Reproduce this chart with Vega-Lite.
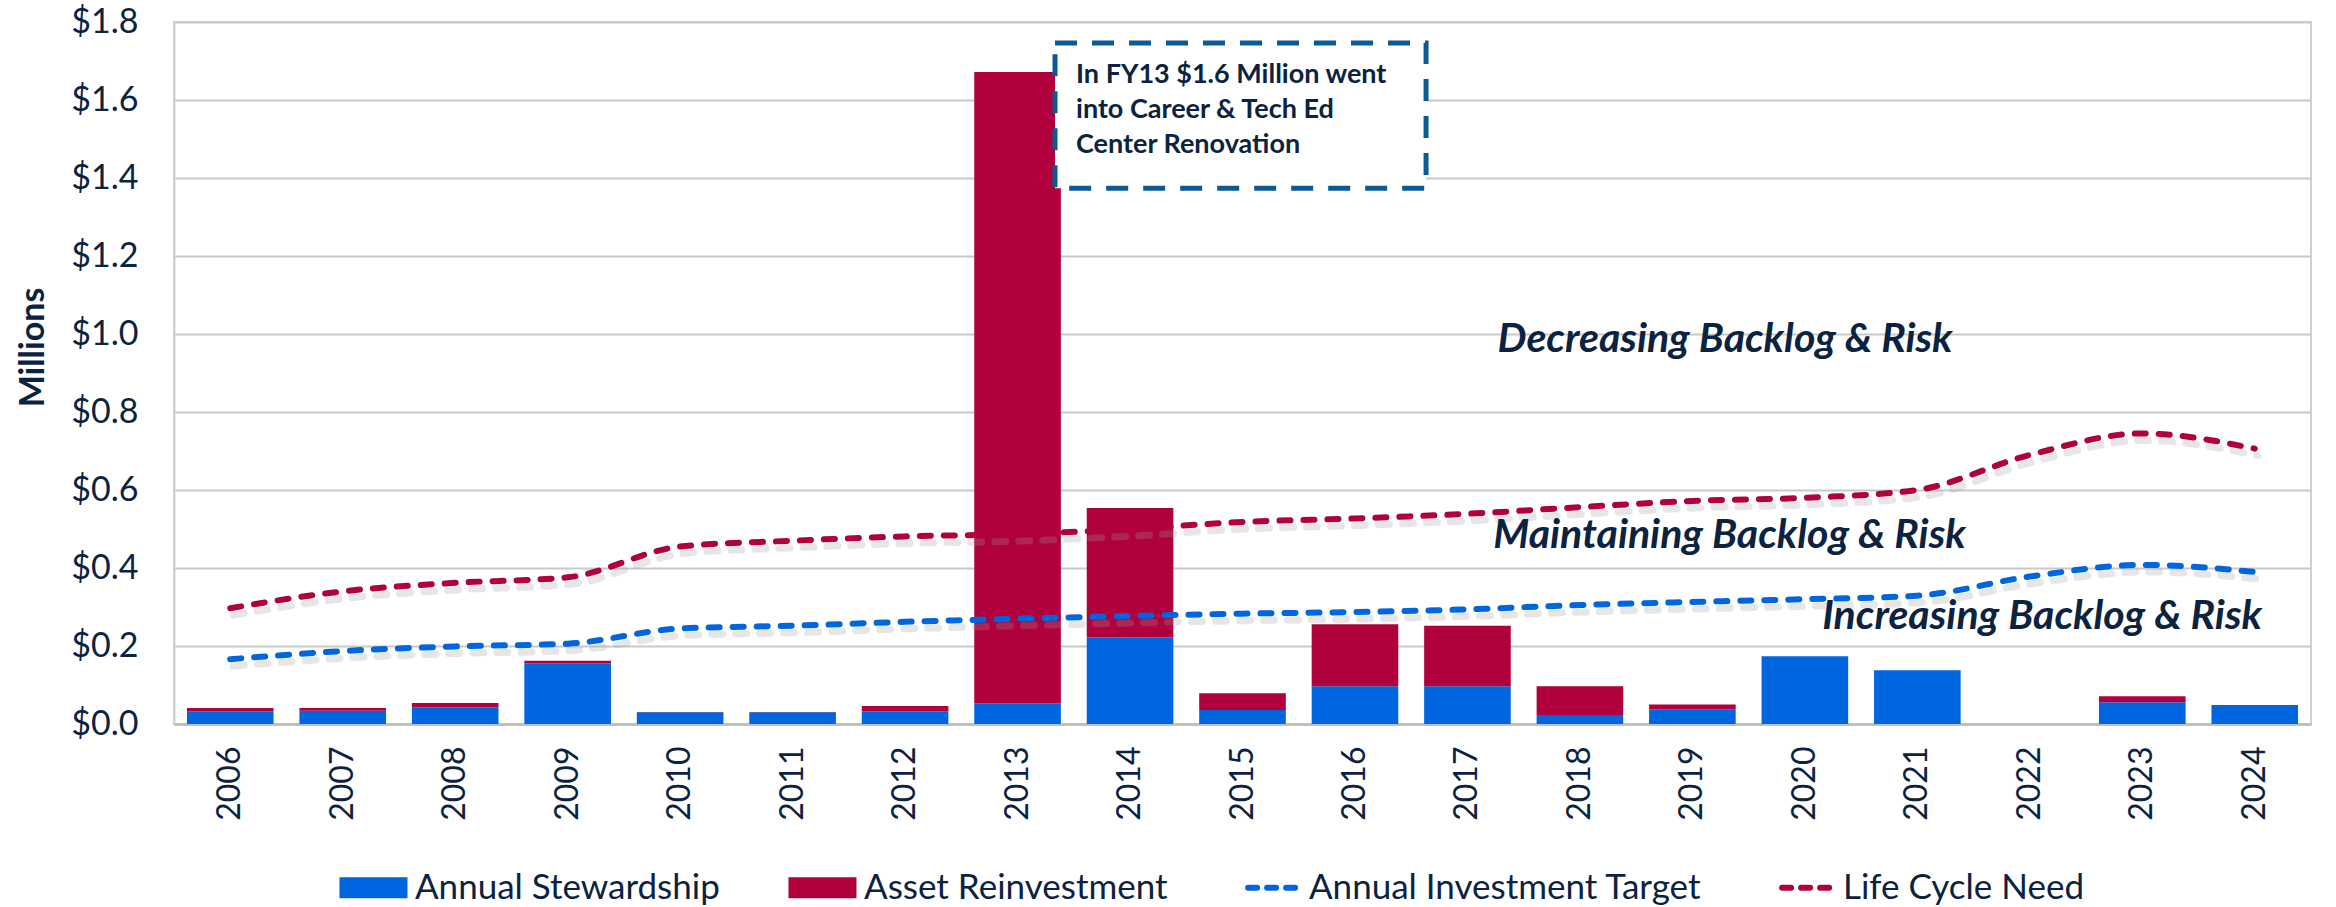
{
  "$schema": "https://vega.github.io/schema/vega-lite/v6.json",
  "autosize": {"type": "none"},
  "width": 2137,
  "height": 702,
  "padding": {"left": 174, "top": 22, "right": 25, "bottom": 183},
  "background": "white",
  "config": {
    "font": "Lato",
    "view": {"stroke": "#d0d0d0", "strokeWidth": 2},
    "axis": {"labelFont": "Lato", "titleFont": "Lato", "labelColor": "#0b2341", "titleColor": "#0b2341"}
  },
  "datasets": {
    "main": [
      {"year": "2006", "Annual Stewardship": 0.033, "Asset Reinvestment": 0.008, "Annual Investment Target": 0.166, "Life Cycle Need": 0.297},
      {"year": "2007", "Annual Stewardship": 0.034, "Asset Reinvestment": 0.007, "Annual Investment Target": 0.187, "Life Cycle Need": 0.34},
      {"year": "2008", "Annual Stewardship": 0.043, "Asset Reinvestment": 0.011, "Annual Investment Target": 0.199, "Life Cycle Need": 0.362},
      {"year": "2009", "Annual Stewardship": 0.156, "Asset Reinvestment": 0.006, "Annual Investment Target": 0.206, "Life Cycle Need": 0.376},
      {"year": "2010", "Annual Stewardship": 0.030, "Asset Reinvestment": 0.001, "Annual Investment Target": 0.245, "Life Cycle Need": 0.455},
      {"year": "2011", "Annual Stewardship": 0.030, "Asset Reinvestment": 0.001, "Annual Investment Target": 0.252, "Life Cycle Need": 0.47},
      {"year": "2012", "Annual Stewardship": 0.033, "Asset Reinvestment": 0.013, "Annual Investment Target": 0.262, "Life Cycle Need": 0.481},
      {"year": "2013", "Annual Stewardship": 0.053, "Asset Reinvestment": 1.619, "Annual Investment Target": 0.27, "Life Cycle Need": 0.487},
      {"year": "2014", "Annual Stewardship": 0.222, "Asset Reinvestment": 0.332, "Annual Investment Target": 0.277, "Life Cycle Need": 0.5},
      {"year": "2015", "Annual Stewardship": 0.036, "Asset Reinvestment": 0.043, "Annual Investment Target": 0.283, "Life Cycle Need": 0.518},
      {"year": "2016", "Annual Stewardship": 0.097, "Asset Reinvestment": 0.159, "Annual Investment Target": 0.287, "Life Cycle Need": 0.527},
      {"year": "2017", "Annual Stewardship": 0.097, "Asset Reinvestment": 0.155, "Annual Investment Target": 0.294, "Life Cycle Need": 0.539},
      {"year": "2018", "Annual Stewardship": 0.023, "Asset Reinvestment": 0.074, "Annual Investment Target": 0.305, "Life Cycle Need": 0.556},
      {"year": "2019", "Annual Stewardship": 0.038, "Asset Reinvestment": 0.012, "Annual Investment Target": 0.313, "Life Cycle Need": 0.572},
      {"year": "2020", "Annual Stewardship": 0.174, "Asset Reinvestment": 0.0, "Annual Investment Target": 0.32, "Life Cycle Need": 0.58},
      {"year": "2021", "Annual Stewardship": 0.138, "Asset Reinvestment": 0.0, "Annual Investment Target": 0.329, "Life Cycle Need": 0.6},
      {"year": "2022", "Annual Stewardship": 0.0, "Asset Reinvestment": 0.0, "Annual Investment Target": 0.378, "Life Cycle Need": 0.69},
      {"year": "2023", "Annual Stewardship": 0.056, "Asset Reinvestment": 0.015, "Annual Investment Target": 0.408, "Life Cycle Need": 0.745},
      {"year": "2024", "Annual Stewardship": 0.049, "Asset Reinvestment": 0.0, "Annual Investment Target": 0.39, "Life Cycle Need": 0.706}
    ],
    "box": [
      {"x0": 7.833, "x1": 11.132, "y0": 1.374, "y1": 1.746}
    ],
    "boxText": [
      {"line": "In FY13 $1.6 Million went", "xpos": 8.02, "ypos": 1.644},
      {"line": "into Career & Tech Ed", "xpos": 8.02, "ypos": 1.554},
      {"line": "Center Renovation", "xpos": 8.02, "ypos": 1.464}
    ],
    "zones": [
      {"label": "Decreasing Backlog & Risk", "xpos": 13.79, "ypos": 0.985},
      {"label": "Maintaining Backlog & Risk", "xpos": 13.83, "ypos": 0.482},
      {"label": "Increasing Backlog & Risk", "xpos": 16.61, "ypos": 0.274}
    ]
  },
  "resolve": {"scale": {"x": "independent"}},
  "layer": [
    {
      "layer": [
        {
          "data": {"name": "main"},
          "transform": [{"fold": ["Annual Stewardship", "Asset Reinvestment"], "as": ["series", "value"]}],
          "mark": {"type": "bar"},
          "encoding": {
            "x": {
              "field": "year", "type": "ordinal",
              "scale": {"paddingInner": 0.23, "paddingOuter": 0.115},
              "axis": {"title": null, "labelAngle": -90, "labelFontSize": 32, "labelPadding": 22, "ticks": false, "tickSize": 0, "domainColor": "#bfbfbf", "domainWidth": 3, "grid": false}
            },
            "y": {
              "field": "value", "type": "quantitative", "stack": "zero",
              "scale": {"domain": [0, 1.8], "nice": false},
              "title": "Millions",
              "axis": {"values": [0, 0.2, 0.4, 0.6, 0.8, 1.0, 1.2, 1.4, 1.6, 1.8], "format": "$.1f", "labelFontSize": 34, "labelPadding": 36, "ticks": false, "tickSize": 0, "domainColor": "#d0d0d0", "domainWidth": 2, "gridColor": "#c9c9c9", "gridWidth": 2, "titleFontSize": 34, "titleFontWeight": "bold", "titlePadding": 20, "titleY": 325}
            },
            "color": {
              "field": "series", "type": "nominal",
              "scale": {
                "domain": ["Annual Stewardship", "Asset Reinvestment", "Annual Investment Target", "Life Cycle Need"],
                "range": ["#0066e0", "#b0003e", "#0066e0", "#b0003e"]
              },
              "legend": {
                "orient": "none", "legendX": 166, "legendY": 848, "direction": "horizontal", "title": null,
                "labelFont": "Lato", "labelFontSize": 35, "labelColor": "#0b2341", "labelOffset": 40, "labelLimit": 0,
                "symbolSize": 4624, "columnPadding": 68, "gridAlign": "each",
                "encode": {
                  "symbols": {
                    "update": {
                      "shape": {"signal": "indexof(['Annual Stewardship','Asset Reinvestment'], datum.value) >= 0 ? 'M-0.53,-0.31H1.47V0.31H-0.53Z' : 'M-0.6,0H0.95'"},
                      "fill": {"signal": "indexof(['Annual Stewardship','Asset Reinvestment'], datum.value) >= 0 ? scale('color', datum.value) : 'transparent'"},
                      "stroke": {"signal": "scale('color', datum.value)"},
                      "strokeWidth": {"signal": "indexof(['Annual Stewardship','Asset Reinvestment'], datum.value) >= 0 ? 0 : 6"},
                      "strokeDash": {"signal": "indexof(['Annual Stewardship','Asset Reinvestment'], datum.value) >= 0 ? [1,0] : [9,10]"},
                      "strokeCap": {"value": "round"},
                      "opacity": {"value": 1}
                    }
                  },
                  "labels": {
                    "update": {
                      "dx": {"signal": "indexof(['Annual Stewardship','Asset Reinvestment'], datum.value) >= 0 ? 0 : -17"}
                    }
                  }
                }
              }
            },
            "order": {"field": "series", "sort": "ascending"}
          }
        },
        {
          "data": {"name": "main"},
          "transform": [{"fold": ["Annual Investment Target", "Life Cycle Need"], "as": ["series", "value"]}],
          "mark": {"type": "line", "interpolate": "monotone", "strokeWidth": 7, "strokeDash": [11, 13], "strokeCap": "round", "color": "#9a9a9a", "opacity": 0.25, "xOffset": 3, "yOffset": 7},
          "encoding": {
            "x": {"field": "year", "type": "ordinal"},
            "y": {"field": "value", "type": "quantitative", "title": "Millions"},
            "detail": {"field": "series", "type": "nominal"}
          }
        },
        {
          "data": {"name": "main"},
          "transform": [{"fold": ["Annual Investment Target", "Life Cycle Need"], "as": ["series", "value"]}],
          "mark": {"type": "line", "interpolate": "monotone", "strokeWidth": 6, "strokeDash": [11, 13], "strokeCap": "round"},
          "encoding": {
            "x": {"field": "year", "type": "ordinal"},
            "y": {"field": "value", "type": "quantitative", "title": "Millions"},
            "color": {"field": "series", "type": "nominal"}
          }
        }
      ]
    },
    {
      "data": {"name": "box"},
      "mark": {"type": "rect", "fill": "white", "stroke": "#0b5a92", "strokeWidth": 5, "strokeDash": [22, 15]},
      "encoding": {
        "x": {"field": "x0", "type": "quantitative", "scale": {"domain": [0, 19], "nice": false, "zero": false}, "axis": null},
        "x2": {"field": "x1"},
        "y": {"field": "y0", "type": "quantitative", "title": "Millions"},
        "y2": {"field": "y1"}
      }
    },
    {
      "data": {"name": "boxText"},
      "mark": {"type": "text", "align": "left", "baseline": "alphabetic", "font": "Lato", "fontWeight": "bold", "fontSize": 27, "color": "#0b2341"},
      "encoding": {
        "x": {"field": "xpos", "type": "quantitative", "scale": {"domain": [0, 19], "nice": false, "zero": false}, "axis": null},
        "y": {"field": "ypos", "type": "quantitative", "title": "Millions"},
        "text": {"field": "line"}
      }
    },
    {
      "data": {"name": "zones"},
      "mark": {"type": "text", "align": "center", "baseline": "middle", "font": "Lato", "fontWeight": "bold", "fontStyle": "italic", "fontSize": 41, "color": "#0b2341"},
      "encoding": {
        "x": {"field": "xpos", "type": "quantitative", "scale": {"domain": [0, 19], "nice": false, "zero": false}, "axis": null},
        "y": {"field": "ypos", "type": "quantitative", "title": "Millions"},
        "text": {"field": "label"}
      }
    }
  ]
}
